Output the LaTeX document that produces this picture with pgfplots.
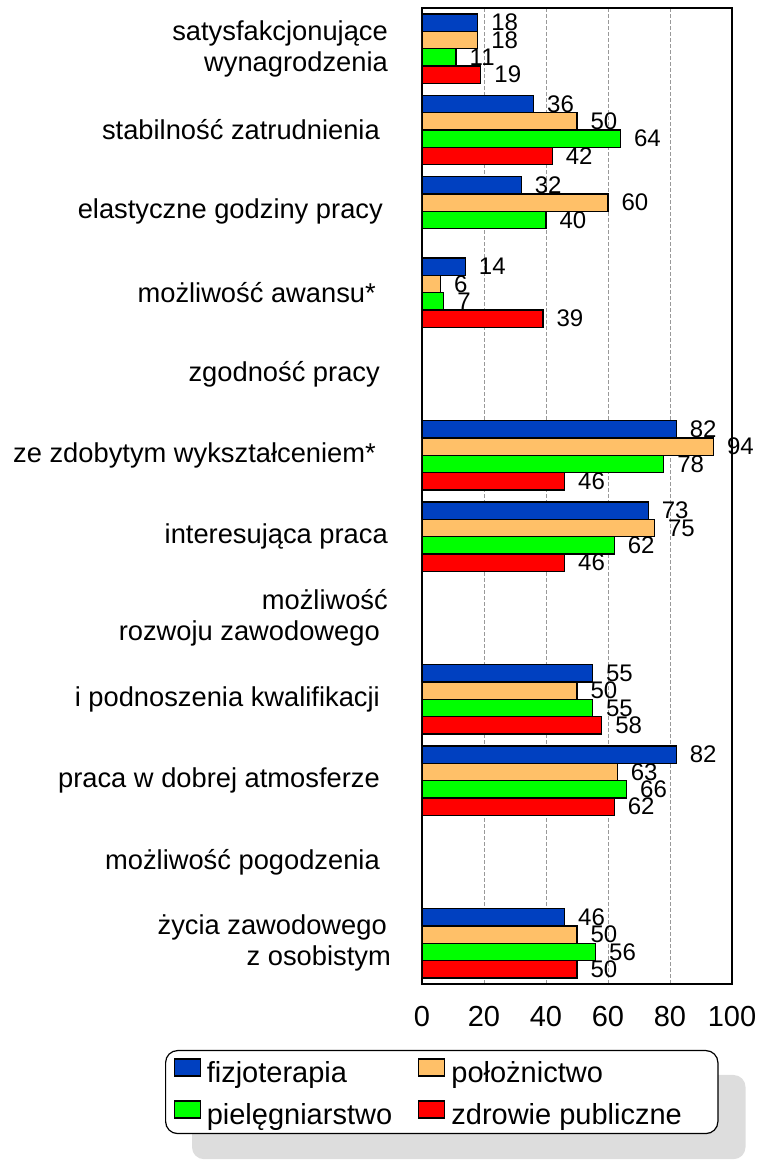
\documentclass[border=0pt]{standalone}
\usepackage{pgfplots}
\pgfplotsset{compat=1.18}
\usepackage{fontspec}
\setmainfont{Liberation Sans}
\pgfdeclarelayer{background}
\pgfsetlayers{background,main}
\definecolor{cblue}{RGB}{0,64,192}
\definecolor{corange}{RGB}{255,192,104}
\definecolor{cgreen}{RGB}{0,255,0}
\definecolor{cred}{RGB}{255,0,0}
\definecolor{cshadow}{RGB}{221,221,221}
\begin{document}
\begin{tikzpicture}
\path[use as bounding box] (0,0) rectangle (756pt,1160pt);
\begin{axis}[
  at={(422pt,176pt)}, anchor=south west,
  scale only axis, width=310pt, height=976pt,
  xbar, bar width=17.3pt,
  xmin=0, xmax=100, ymin=0.5, ymax=12.5,
  xtick={0,20,40,60,80,100},
  ytick={1,2,3,4,5,6,7,8,9,10,11,12},
  yticklabels={
    {życia zawodowego\hspace*{4pt}\\z osobistym},
    {możliwość pogodzenia\hspace*{11pt}},
    {praca w dobrej atmosferze\hspace*{11pt}},
    {i podnoszenia kwalifikacji\hspace*{11pt}},
    {możliwość\hspace*{3pt}\\rozwoju zawodowego\hspace*{11pt}},
    {interesująca praca\hspace*{3pt}},
    {ze zdobytym wykształceniem*\hspace*{15pt}},
    {zgodność pracy\hspace*{11pt}},
    {możliwość awansu*\hspace*{15pt}},
    {elastyczne godziny pracy\hspace*{8pt}},
    {stabilność zatrudnienia\hspace*{11pt}},
    {satysfakcjonujące\hspace*{3pt}\\wynagrodzenia\hspace*{3pt}}
  },
  major tick length=0pt,
  xmajorgrids,
  major grid style={gray!80, line width=0.8pt, dash pattern=on 4pt off 2pt},
  axis line style={line width=1.3pt},
  /pgf/number format/assume math mode=true,
  xticklabel style={font=\fontsize{29}{29}\selectfont, inner sep=0pt, yshift=-22pt},
  yticklabel style={font=\fontsize{27.3}{31}\selectfont, align=right, inner sep=0pt, xshift=-31pt},
  nodes near coords, point meta=x,
  nodes near coords style={font=\fontsize{24}{24}\selectfont, inner sep=0pt, xshift=13pt, anchor=west},
  legend columns=2,
  legend image code/.code={%
    \draw[#1,sharp corners,line width=1.2pt] (0pt,-5pt) rectangle (26pt,12pt);},
  legend style={at={(axis description cs:-0.829,-0.0676)}, anchor=north west,
    name=leg,
    draw=black, line width=1.2pt, rounded corners=12pt, fill=white,
    inner xsep=8pt, inner ysep=7pt, row sep=15pt,
    font=\fontsize{29}{29}\selectfont,
    nodes={text height=25pt, text depth=2pt, inner sep=0pt},
    /tikz/every odd column/.append style={column sep=6pt},
    /tikz/every even column/.append style={column sep=26pt}},
  legend cell align=left,
]
\addplot[fill=cblue, draw=black, line width=1.2pt, bar shift=26pt] coordinates {
  (18,12) (36,11) (32,10) (14,9) (82,7) (73,6) (55,4) (82,3) (46,1)};
\addplot[fill=corange, draw=black, line width=1.2pt, bar shift=8.65pt] coordinates {
  (18,12) (50,11) (60,10) (6,9) (94,7) (75,6) (50,4) (63,3) (50,1)};
\addplot[fill=cgreen, draw=black, line width=1.2pt, bar shift=-8.65pt] coordinates {
  (11,12) (64,11) (40,10) (7,9) (78,7) (62,6) (55,4) (66,3) (56,1)};
\addplot[fill=cred, draw=black, line width=1.2pt, bar shift=-26pt] coordinates {
  (19,12) (42,11) (39,9) (46,7) (46,6) (58,4) (62,3) (50,1)};
\addlegendentry{fizjoterapia}
\addlegendentry{położnictwo}
\addlegendentry{pielęgniarstwo}
\addlegendentry{zdrowie publiczne\hspace*{28pt}}
\end{axis}
\begin{pgfonlayer}{background}
\fill[cshadow, rounded corners=12pt] ([xshift=27pt,yshift=-25pt]leg.south west) rectangle ([xshift=27pt,yshift=-25pt]leg.north east);
\end{pgfonlayer}
\end{tikzpicture}
\end{document}
